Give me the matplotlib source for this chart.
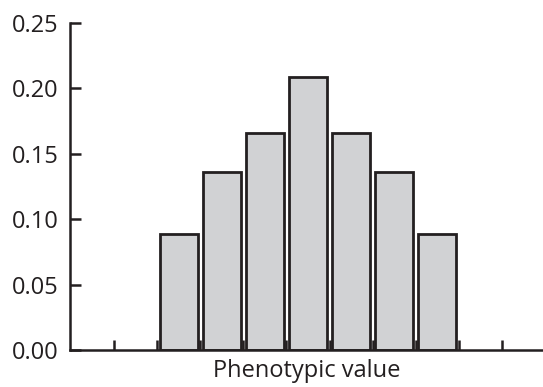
import matplotlib.pyplot as plt
import numpy as np

# Dados
classes = [1.5, 2.5, 3.5, 4.5, 5.5, 6.5, 7.5]
frequencias = [0.089, 0.136, 0.166, 0.209, 0.166, 0.136, 0.089]
limites = np.arange(0, 10)
yticks = [0.00, 0.05, 0.10, 0.15, 0.20, 0.25]

cor = '#231f20'
plt.rcParams['font.family'] = ['Open Sans', 'DejaVu Sans']

fig = plt.figure(figsize=(5.43, 3.87), dpi=100)
ax = fig.add_axes([0.128, 0.0956, 0.872, 0.845])

ax.bar(classes, frequencias, width=0.88, color='#d1d2d4', edgecolor=cor, linewidth=2)

ax.set_xlim(-1.03, 9.95)
ax.set_ylim(0, 0.25)
ax.set_xticks(limites)
ax.set_xticklabels([])
ax.set_yticks(yticks)
ax.set_yticklabels([f'{v:.2f}' for v in yticks])

ax.spines['top'].set_visible(False)
ax.spines['right'].set_visible(False)
for s in ['left', 'bottom']:
    ax.spines[s].set_linewidth(1.8)
    ax.spines[s].set_color(cor)

ax.tick_params(axis='y', direction='in', length=8, width=1.8, color=cor,
               labelsize=17, labelcolor=cor, pad=8)
ax.tick_params(axis='x', direction='in', length=7, width=1.8, color=cor)

ax.set_xlabel('Phenotypic value', fontsize=17, color=cor, labelpad=3)

plt.savefig('out.png', dpi=100)
